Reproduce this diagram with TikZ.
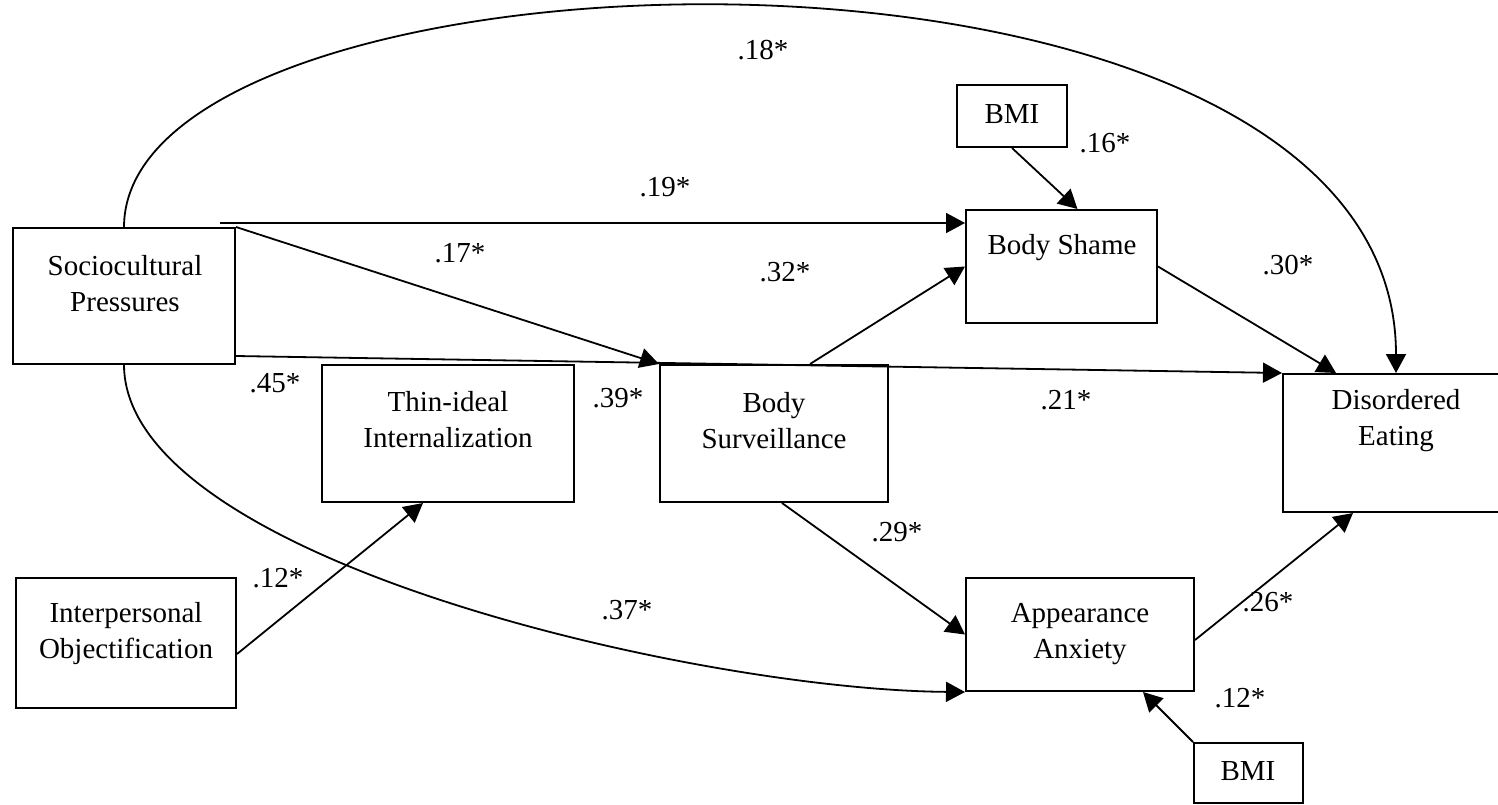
\documentclass[tikz,border=0pt]{standalone}
\usepackage{fontspec}
\setmainfont{Liberation Serif}
\usetikzlibrary{arrows.meta,calc}
\tikzset{
  box/.style={draw, line width=1pt, rectangle, inner sep=0pt},
  txt/.style={align=center, inner sep=0pt, font=\fontsize{14.5pt}{18pt}\selectfont},
  coef/.style={inner sep=0pt, font=\fontsize{14.5pt}{18pt}\selectfont},
  path/.style={line width=0.9pt, -{Triangle[length=9.5pt,width=10pt]}}
}
\begin{document}
\begin{tikzpicture}[x=0.5pt,y=-0.5pt]
\useasboundingbox (0,0) rectangle (1498,804);
\clip (0,0) rectangle (1498,804);
% boxes
\node[box, minimum width=111pt, minimum height=68pt] (sp) at (124,296) {};
\node[box, minimum width=126pt, minimum height=68.5pt] (ti) at (448,433.5) {};
\node[box, minimum width=114pt, minimum height=68.5pt] (bsv) at (774,433.5) {};
\node[box, minimum width=95.5pt, minimum height=56.5pt] (sh) at (1061.5,266.5) {};
\node[box, minimum width=113pt, minimum height=69pt] (de) at (1396,443) {};
\node[box, minimum width=114pt, minimum height=56.5pt] (aa) at (1080,634.5) {};
\node[box, minimum width=110pt, minimum height=65pt] (io) at (126,643) {};
\node[box, minimum width=55pt, minimum height=31pt] (bmia) at (1012,116) {};
\node[box, minimum width=54.5pt, minimum height=30pt] (bmib) at (1248.5,773) {};
% box texts
\node[txt] (sptxt) at (125,283.5) {Sociocultural\\Pressures};
\node[txt] (titxt) at (448,419.5) {Thin-ideal\\Internalization};
\node[txt] (bsvtxt) at (774,420.5) {Body\\Surveillance};
\node[txt] (shtxt) at (1062,248) {Body Shame};
\node[txt] (detxt) at (1396,420.5) {Disordered\\Eating};
\node[txt] (aatxt) at (1080,634.5) {Appearance\\Anxiety};
\node[txt] (iotxt) at (126,634) {Interpersonal\\Objectification};
\node[txt] (bmiatxt) at (1012,114) {BMI};
\node[txt] (bmibtxt) at (1248,771) {BMI};
% connectors
\coordinate (hstart) at (220,223);
\draw[path] (sp.north) .. controls (125,-70) and (1396,-110) .. (de.north);
\draw[path] (hstart) -- (hstart -| sh.west);
\draw[path] (sp.north east) -- (bsv.north west);
\draw[path] ($(sp.south east)+(0,-9)$) -- (de.north west);
\draw[path] ($(bsv.north)+(36,0)$) -- (sh.west);
\draw[path] (bmia.south) -- ($(sh.north)+(16,0)$);
\draw[path] (sh.east) -- ($(de.north west)+(54,0)$);
\draw[path] ($(bsv.south)+(8,0)$) -- (aa.west);
\draw[path] (sp.south) .. controls (125,560) and (700,690) .. (aa.south west);
\draw[path] ($(io.east)+(0,11)$) -- ($(ti.south)+(-25,0)$);
\draw[path] ($(aa.east)+(0,5.5)$) -- ($(de.south)+(-43,0)$);
\draw[path] (bmib.north west) -- ($(aa.south)+(63,0)$);
% coefficients
\node[coef] (c18) at (763,50) {.18*};
\node[coef] (c19) at (665,187) {.19*};
\node[coef] (c16) at (1105,143) {.16*};
\node[coef] (c17) at (460,253) {.17*};
\node[coef] (c32) at (785,272) {.32*};
\node[coef] (c30) at (1288,265) {.30*};
\node[coef] (c45) at (275,383) {.45*};
\node[coef] (c39) at (618,398) {.39*};
\node[coef] (c21) at (1066,400) {.21*};
\node[coef] (c29) at (897,532) {.29*};
\node[coef] (c12a) at (278,578) {.12*};
\node[coef] (c37) at (627,610) {.37*};
\node[coef] (c26) at (1268,602) {.26*};
\node[coef] (c12b) at (1240,698) {.12*};
\end{tikzpicture}
\end{document}
